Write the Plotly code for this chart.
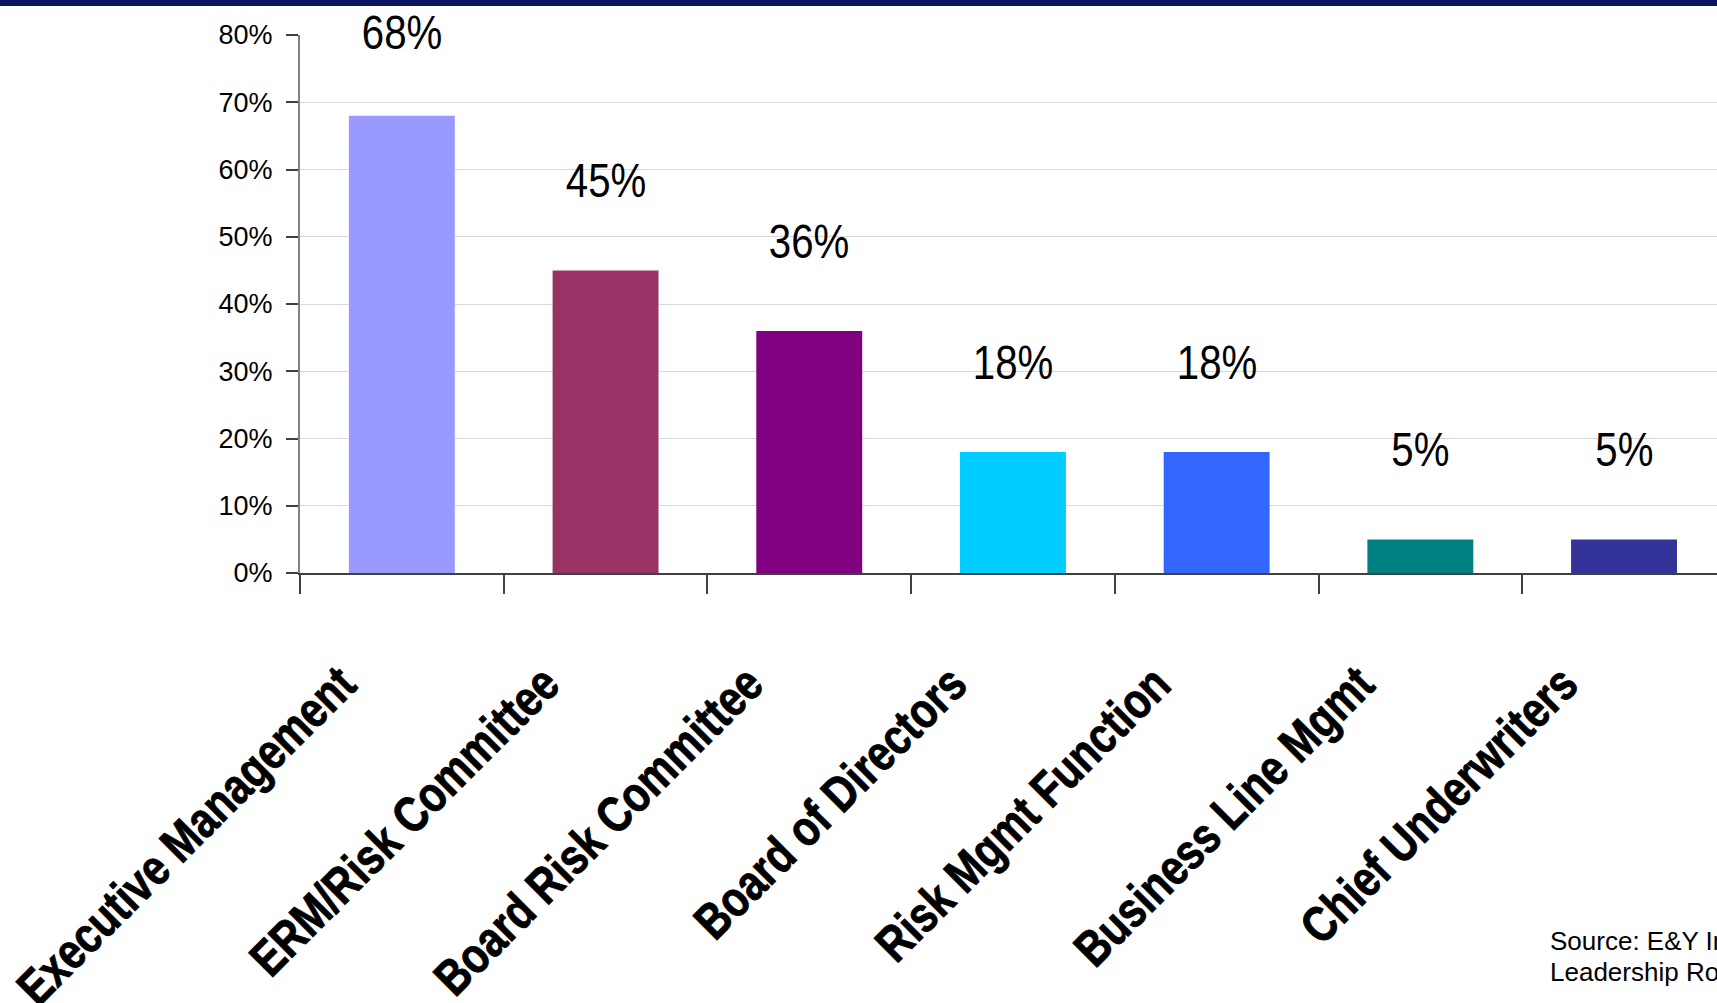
import plotly.graph_objects as go

categories = ["Executive Management", "ERM/Risk Committee", "Board Risk Committee",
              "Board of Directors", "Risk Mgmt Function", "Business Line Mgmt",
              "Chief Underwriters"]
values = [0.68, 0.45, 0.36, 0.18, 0.18, 0.05, 0.05]
bar_colors = ["#9999FF", "#993366", "#800080", "#00CCFF", "#3366FF", "#008080", "#333399"]
label_texts = ["68%", "45%", "36%", "18%", "18%", "5%", "5%"]
y_ticks = [0, 0.1, 0.2, 0.3, 0.4, 0.5, 0.6, 0.7, 0.8]
source_lines = ["Source: E&Y Insurance", "Leadership Roundtable"]

W, H = 1717, 1003
ML, MR, MT, MB = 300, 0, 35, 430
PW, PH = W - ML - MR, H - MT - MB
cat_px = 203.7
x_max = -0.5 + PW / cat_px
Y_MAX = 0.8

SANS = "Liberation Sans, Arial, sans-serif"

fig = go.Figure()
fig.add_trace(go.Bar(
    x=categories, y=values, marker=dict(color=bar_colors, line=dict(width=0)),
    width=0.52, hoverinfo="skip",
))

px_per_unit = PH / Y_MAX
for c, v, t in zip(categories, values, label_texts):
    shift = min(90, (Y_MAX - v) * px_per_unit + 3)
    fig.add_annotation(x=c, y=v, xref="x", yref="y", yshift=shift, text=t, showarrow=False,
                       font=dict(family=SANS, size=49, color="#000000"),
                       xanchor="center", yanchor="middle")

for i, line in enumerate(source_lines):
    fig.add_annotation(xref="paper", yref="paper",
                       x=(1548 - ML) / PW, y=-(941 + 31 * i - MT - PH) / PH,
                       text=line, showarrow=False, xanchor="left", yanchor="middle",
                       font=dict(family=SANS, size=26, color="#000000"))

# top navy stripe
fig.add_shape(type="rect", xref="paper", yref="paper",
              x0=-ML / PW, x1=1.0, y0=1 + (MT - 6) / PH, y1=1 + (MT + 2) / PH,
              fillcolor="#0A1464", line=dict(width=0), layer="above")

fig.update_layout(
    width=W, height=H, margin=dict(l=ML, r=MR, t=MT, b=MB, pad=0, autoexpand=False),
    paper_bgcolor="white", plot_bgcolor="white", showlegend=False,
    bargap=0.48,
)
fig.update_xaxes(
    range=[-0.5, x_max], showline=True, linecolor="#404040", linewidth=1.5,
    ticks="outside", tickson="boundaries", ticklen=19, tickcolor="#404040", tickwidth=1.5,
    tickangle=-45, showgrid=False, zeroline=False, automargin=False,
    tickfont=dict(family=SANS, size=50, color="#000000", weight="bold"),
    ticklabelstandoff=60, ticklabelshift=-61,
)
fig.update_yaxes(
    range=[0, Y_MAX], tickvals=y_ticks, tickformat=".0%", automargin=False,
    showline=True, linecolor="#808080", linewidth=2,
    ticks="outside", ticklen=12, tickcolor="#404040", tickwidth=1.5,
    showgrid=True, gridcolor="#D9D9D9", gridwidth=1, zeroline=False,
    tickfont=dict(family=SANS, size=27, color="#000000"),
    ticklabelstandoff=8,
)

# Emulate a narrow typeface (Arial Narrow = Arial squeezed to 82% width)
post = """
document.body.style.margin='0';document.body.style.overflow='hidden';
var gd=document.getElementById('{plot_id}');
function squeeze(){
  gd.querySelectorAll('.xtick text, .annotation-text').forEach(function(t){
    var isX = !t.classList.contains('annotation-text');
    if (!isX && !/%$/.test(t.textContent)) return;
    if (t.getAttribute('data-sq')) return;
    var L=t.getComputedTextLength();
    if(!L) return;
    t.setAttribute('textLength', L*0.82);
    t.setAttribute('lengthAdjust','spacingAndGlyphs');
    if (isX) { t.style.stroke='#000'; t.style.strokeWidth='0.9px'; }
    t.setAttribute('data-sq','1');
  });
}
squeeze(); if(gd && gd.on){gd.on('plotly_afterplot', squeeze);}
"""
fig.write_html("out.html", post_script=post, config={"displayModeBar": False})
